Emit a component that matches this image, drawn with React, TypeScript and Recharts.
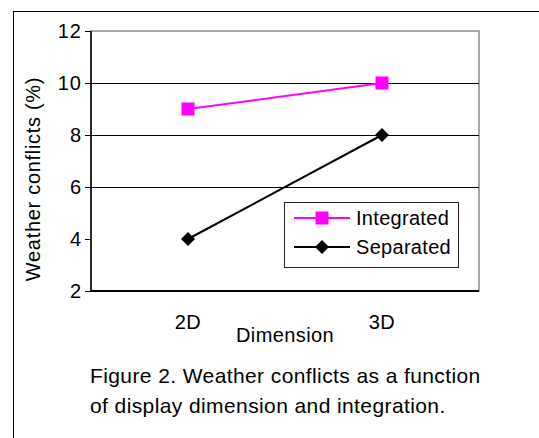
import { Label, Legend, Line, LineChart, ReferenceArea, ReferenceLine, XAxis, YAxis } from "recharts"

const dimensions = ["2D", "3D"]
const integrated = [9, 10]
const separated = [4, 8]
const yTicks = [2, 4, 6, 8, 10, 12]
const gridValues = [6, 8, 10]
const edgeTicks = [0, 1, 2]

const data = dimensions.map((d, i) => ({ dim: d, Integrated: integrated[i], Separated: separated[i], edge: i + 0.5 }))

const font = "'Liberation Sans', Arial, sans-serif"

const Square = (p: any) => {
  const { cx, cy, fill } = p
  if (cx == null || cy == null) return null
  return <rect x={cx - 6.5} y={cy - 6.5} width={13} height={13} fill={fill} />
}
const Diamond = (p: any) => {
  const { cx, cy, fill } = p
  if (cx == null || cy == null) return null
  return <polygon points={`${cx},${cy - 7} ${cx + 7},${cy} ${cx},${cy + 7} ${cx - 7},${cy}`} fill={fill} />
}

const LegendBox = (props: any) => {
  const items = props.payload || []
  return (
    <svg width={175} height={66} style={{ display: "block" }}>
      <rect x={0.5} y={0.5} width={174} height={65} fill="#fff" stroke="#222" />
      {items.map((it: any, i: number) => {
        const y = 16 + i * 29
        const c = it.color
        return (
          <g key={it.value}>
            <line x1={10} x2={66} y1={y} y2={y} stroke={c} strokeWidth={2} />
            {i === 0 ? <Square cx={38} cy={y} fill={c} /> : <Diamond cx={38} cy={y} fill={c} />}
            <text x={72} y={y + 7} fontSize={20} fontFamily={font} fill="#000" letterSpacing={0.3}>{it.value}</text>
          </g>
        )
      })}
    </svg>
  )
}

const YTitle = (props: any) => {
  const vb = props.viewBox
  const x = vb.x + 33
  const y = vb.y + vb.height / 2 + 18
  return (
    <text x={x} y={y} transform={`rotate(-90, ${x}, ${y})`} textAnchor="middle" dominantBaseline="central"
      fontSize={20} fontFamily={font} fill="#000" letterSpacing={0.7}>
      Weather conflicts (%)
    </text>
  )
}

export default function App() {
  return (
    <div style={{ position: "absolute", left: 0, top: 0, width: 539, height: 438, background: "#fff", overflow: "hidden" }}>
      <div style={{ position: "absolute", left: 13, top: 11, width: 540, height: 440, borderTop: "1.5px solid #000", borderLeft: "1.5px solid #000" }} />
      <LineChart width={539} height={438} data={data} margin={{ top: 31, right: 60, left: 0, bottom: 0 }}
        style={{ position: "absolute", left: 0, top: 0 }}>
        <ReferenceArea y1={2} y2={12} fill="none" stroke="#8c8c8c" strokeWidth={1.5} />
        {gridValues.map(v => <ReferenceLine key={v} y={v} stroke="#000" strokeWidth={1} shapeRendering="crispEdges" />)}
        <XAxis xAxisId="edges" type="number" dataKey="edge" domain={[0, 2]} ticks={edgeTicks} tick={false}
          tickSize={6} tickLine={{ stroke: "#000", strokeWidth: 1.5 }} axisLine={false} height={0} />
        <XAxis dataKey="dim" scale="band" height={147} tickLine={false} tickSize={0} tickMargin={24}
          axisLine={{ stroke: "#000", strokeWidth: 2 }}
          tick={{ fill: "#000", fontSize: 20, fontFamily: font, letterSpacing: 0.5 }}>
          <Label value="Dimension" position="insideTop" offset={37} fill="#000" fontSize={20} fontFamily={font} letterSpacing={0.4} />
        </XAxis>
        <YAxis width={91} domain={[2, 12]} ticks={yTicks} tickSize={6} tickMargin={3}
          axisLine={{ stroke: "#000", strokeWidth: 1.5 }} tickLine={{ stroke: "#000", strokeWidth: 1, shapeRendering: "crispEdges" }}
          tick={{ fill: "#000", fontSize: 20, fontFamily: font, letterSpacing: 1 }}>
          <Label content={YTitle} />
        </YAxis>
        <Legend content={LegendBox} layout="horizontal" verticalAlign="middle" align="center"
          wrapperStyle={{ position: "absolute", left: 284, top: 202, width: 175, height: 66 }} />
        <Line dataKey="Integrated" stroke="#ff00ff" strokeWidth={2} dot={Square} fill="#ff00ff" activeDot={false} isAnimationActive={false} />
        <Line dataKey="Separated" stroke="#000" strokeWidth={2} dot={Diamond} fill="#000" activeDot={false} isAnimationActive={false} />
      </LineChart>
      <div style={{ position: "absolute", left: 90, top: 361, fontFamily: font, fontSize: 21, lineHeight: "30px", letterSpacing: 0.4, color: "#000", whiteSpace: "nowrap" }}>
        Figure 2. Weather conflicts as a function<br />of display dimension and integration.
      </div>
    </div>
  )
}
